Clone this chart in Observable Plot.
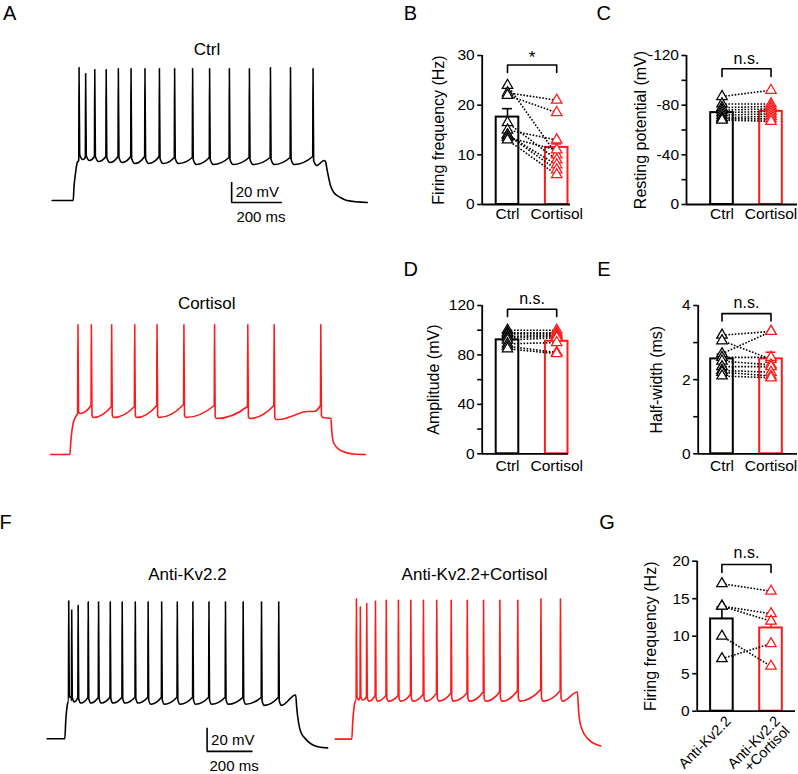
<!DOCTYPE html>
<html><head><meta charset="utf-8">
<script src="https://cdn.jsdelivr.net/npm/d3@7"></script>
<script src="https://cdn.jsdelivr.net/npm/@observablehq/plot@0.6"></script>
<style>
body{margin:0;background:#fff;}
#fig{position:relative;width:798px;height:774px;font-family:"Liberation Sans",Arial,sans-serif;background:#fff;overflow:hidden;}
#fig svg{position:absolute;left:0;top:0;overflow:visible;}
.lbl{position:absolute;color:#000;white-space:nowrap;line-height:1;transform:translate(-50%,-50%);}
</style></head><body><div id="fig"></div>
<script>
// ---------------- DATA ----------------
const groupsA = ["Ctrl", "Cortisol"];
const groupsG = ["Anti-Kv2.2", "Anti-Kv2.2\n+Cortisol"];

// B: firing frequency (Hz)
const freqCtrl = [24, 22.5, 22, 16.5, 15, 14, 14, 13.5, 13];
const freqCort = [10, 21, 18.5, 9, 13, 8, 7, 11, 6];
const freqMean = [17.6, 11.5];
const freqSem = [1.7, 0.7];
// C: resting potential (mV)
const restCtrl = [-87, -81, -78, -76, -74, -72, -70, -69, -68];
const restCort = [-92, -81, -79, -77, -75, -73, -71, -69, -67];
const restMean = [-74, -75];
const restSem = [2.0, 2.3];
// D: amplitude (mV)
const ampCtrl = [100, 98, 97, 95, 94, 92, 89, 87, 85];
const ampCort = [100, 98, 97, 96, 95, 94, 90, 82, 81];
const ampMean = [92.2, 91.1];
const ampSem = [1.8, 2.4];
// E: half-width (ms)
const hwCtrl = [3.2, 3.05, 2.7, 2.6, 2.5, 2.35, 2.25, 2.2, 2.1];
const hwCort = [3.3, 2.55, 3.3, 2.6, 2.4, 2.35, 2.2, 2.1, 2.05];
const hwMean = [2.56, 2.56];
const hwSem = [0.13, 0.18];
// G: firing frequency with anti-Kv2.2 (Hz)
const kvCtrl = [17, 14, 14, 10, 7];
const kvCort = [16, 13, 12, 6, 9];
const kvMean = [12.3, 11.1];
const kvSem = [1.6, 0.55];

// significance brackets: end level, top level, label level
const sigB = {ends: 26.6, top: 28.1, textY: 29.6, text: "*"};
const sigC = {ends: -103, top: -109.3, textY: -117.6, text: "n.s."};
const sigD = {ends: 111, top: 117, textY: 125.5, text: "n.s."};
const sigE = {ends: 3.58, top: 3.78, textY: 4.06, text: "n.s."};
const sigG = {ends: 18.5, top: 19.56, textY: 21.1, text: "n.s."};

// Voltage traces (time ms from current-step onset, membrane potential mV)
const traceCtrl = {
  onset: [[-83, -70], [0, -70], [3, -57], [9, -43], [16, -32]],
  spikeT: [23, 49, 85, 130, 178, 228, 283, 340, 400, 471, 538, 616, 695, 778, 857, 946],
  peakV: [63, 57, 61, 61, 62, 62, 62, 62, 62, 62, 62, 62, 62, 63, 63, 62],
  troughV: [-29, -30, -31, -32, -32, -33, -33, -33, -33, -34, -34, -34, -34, -34, -34, -35],
  threshV: [-30, -27, -26, -26, -26, -26, -26, -26, -27, -27, -27, -27, -27, -27, -27, -26],
  extra: [],
  offset: [[989, -30], [995, -31], [1002, -40], [1015, -55], [1028, -62], [1054, -67], [1080, -70], [1160, -72]]
};
const traceCort = {
  onset: [[-76, -70], [0, -70], [5, -54], [13, -39], [26, -31]],
  spikeT: [32, 85, 165, 256, 344, 450, 571, 702, 806, 990],
  peakV: [60, 60, 60, 60, 60, 60, 60, 60, 60, 60],
  troughV: [-29, -33, -33, -33, -33, -33, -34, -34, -35, -33],
  threshV: [-29, -21, -22, -22, -21, -20, -21, -22, -21, -21],
  extra: [[831, -35], [884, -31], [936, -27], [962, -27]],
  offset: [[1030, -34], [1033, -45], [1036, -53], [1042, -59], [1068, -66], [1120, -69.5], [1166, -70]]
};
const traceKv = {
  onset: [[-77, -70], [0, -70], [4, -55], [10, -42], [15, -38]],
  spikeT: [17, 30, 58, 102, 147, 198, 250, 307, 363, 422, 490, 558, 628, 700, 777, 857, 932],
  peakV: [50, 42, 46, 49, 49, 49, 49, 49, 49, 49, 49, 49, 49, 49, 49, 49, 49],
  troughV: [-37, -38, -39, -39, -39, -39, -39, -39, -40, -40, -40, -40, -40, -40, -40, -41, -41],
  threshV: [-38, -35, -34, -34, -34, -34, -34, -34, -34, -34, -34, -34, -34, -34, -34, -34, -34],
  extra: [],
  offset: [[1006, -32], [1011, -44], [1028, -64], [1053, -71], [1103, -77], [1145, -78]]
};
const traceKvCort = {
  onset: [[-72, -70], [0, -70], [4, -55], [10, -42], [16, -37]],
  spikeT: [20, 37, 65, 103, 150, 203, 257, 312, 370, 433, 503, 574, 645, 723, 824, 909],
  peakV: [52, 45, 48, 50, 51, 51, 51, 51, 51, 51, 51, 51, 51, 51, 52, 52],
  troughV: [-36, -36, -37, -37, -37, -37, -37, -37, -37, -37, -37, -37, -37, -37, -37, -37],
  threshV: [-37, -33, -33, -32, -32, -32, -31, -31, -30, -30, -30, -29, -29, -28, -27, -28],
  extra: [],
  offset: [[983, -29], [988, -45], [1000, -60], [1030, -70], [1085, -76]]
};
// scale bars: anchor time, anchor voltage, length ms, length mV
const scaleA = {t: 625, v: -72, ms: 200, mV: 20};
const scaleF = {t: 620, v: -81, ms: 200, mV: 20};

// ---------------- LAYOUT / HELPERS ----------------
const W = 798, H = 774;
const FONT = '"Liberation Sans", Arial, sans-serif';
const RED = "#ff1a1a";
const fig = document.getElementById("fig");

function fullPlot(frame, opts) {
  return Plot.plot({
    width: W, height: H,
    marginLeft: frame.left, marginRight: W - frame.right,
    marginTop: frame.top, marginBottom: H - frame.bottom,
    style: {background: "transparent", overflow: "visible", fontFamily: FONT, color: "black"},
    ...opts
  });
}

function label(text, x, y, size, extra) {
  const d = document.createElement("div");
  d.className = "lbl";
  d.textContent = text;
  d.style.left = x + "px"; d.style.top = y + "px"; d.style.fontSize = size + "px";
  if (extra) Object.assign(d.style, extra);
  fig.appendChild(d);
}

function barPanel(cfg) {
  const {frame, centers, yDomain, ticks, minor, ctrl, treat, mean, sem, sig, title, titleOff, groups, rotateLabels, labelDy} = cfg;
  const step = centers[1] - centers[0];
  const xDomain = [(frame.left - centers[0]) / step, (frame.right - centers[0]) / step];
  const hw = 11.3 / step;
  const cols = ["black", RED];
  const sign = yDomain[1] < 0 ? -1 : 1;
  const bars = mean.map((m, i) => ({i, m, s: sem[i], c: cols[i]}));
  const pairs = ctrl.map((c, i) => ({a: c, b: treat[i]}));
  const pts = ctrl.map(v => ({i: 0, v, c: "black"})).concat(treat.map(v => ({i: 1, v, c: RED})));
  const brk = [[0, sig.ends], [0, sig.top], [1, sig.top], [1, sig.ends]];
  const marks = [
    Plot.rectY(bars, {x1: d => d.i - hw, x2: d => d.i + hw, y1: 0, y2: "m", fill: "white", stroke: "c", strokeWidth: 2}),
    Plot.ruleX(bars, {x: "i", y1: "m", y2: d => d.m + sign * d.s, stroke: "c", strokeWidth: 1.6}),
    Plot.ruleY(bars, {y: d => d.m + sign * d.s, x1: d => d.i - 0.1, x2: d => d.i + 0.1, stroke: "c", strokeWidth: 1.6}),
    Plot.link(pairs, {x1: () => 0, x2: () => 1, y1: "a", y2: "b", stroke: "black", strokeWidth: 1.6, strokeDasharray: "1.6,1.6"}),
    Plot.dot(pts, {x: "i", y: "v", symbol: "triangle", r: 3.9, stroke: "c", fill: "white", strokeWidth: 1.25}),
    Plot.ruleX([xDomain[0]], {stroke: "black", strokeWidth: 1.8}),
    Plot.ruleY([0], {stroke: "black", strokeWidth: 1.8}),
    Plot.axisY({ticks, tickSize: 4.5, tickPadding: 3, fontSize: 15.5, strokeWidth: 1.6, label: null, anchor: "left", tickFormat: d => String(d)}),
    Plot.line(brk, {x: d => d[0], y: d => d[1], stroke: "black", strokeWidth: 1.6}),
    Plot.text([sig.text], {x: () => 0.5, y: () => sig.textY, text: d => d, fontSize: sig.text === "*" ? 17 : 16}),
    Plot.text([title], {frameAnchor: "left", dx: -titleOff, rotate: -90, textAnchor: "middle", text: d => d, fontSize: 16})
  ];
  if (minor) marks.push(Plot.axisY({ticks: minor, tickSize: 4.5, tickFormat: () => "", strokeWidth: 1.6, label: null, anchor: "left"}));
  if (rotateLabels) {
    marks.push(Plot.text(groups, {x: (d, i) => i, frameAnchor: "bottom", dx: 3, dy: 4, rotate: -45, textAnchor: "end", lineAnchor: "top", lineHeight: 0.95, text: d => d, fontSize: 14.5}));
  } else {
    marks.push(Plot.text(groups, {x: (d, i) => i, frameAnchor: "bottom", dy: labelDy, text: d => d, fontSize: 15.5}));
  }
  fig.appendChild(fullPlot(frame, {
    x: {domain: xDomain, axis: null},
    y: {domain: yDomain, axis: null},
    color: {type: "identity"},
    marks
  }));
}

function buildTrace(tr, ahp, fall) {
  const pts = tr.onset.map(p => ({t: p[0], v: p[1]}));
  tr.spikeT.forEach((t, i) => {
    pts.push({t: t - 1.2, v: tr.threshV[i]});
    pts.push({t, v: tr.peakV[i]});
    pts.push({t: t + fall[0], v: tr.troughV[i] + fall[1]});
    pts.push({t: t + ahp, v: tr.troughV[i]});
  });
  tr.extra.forEach(p => pts.push({t: p[0], v: p[1]}));
  tr.offset.forEach(p => pts.push({t: p[0], v: p[1]}));
  pts.sort((a, b) => a.t - b.t);
  return pts;
}

function tracePanel(cfg) {
  const {x0, y0, pxMs, pxMv, tr, color, ahp, fall, scale} = cfg;
  const tMin = -160, tMax = 1260, vMin = -110, vMax = 80;
  const frame = {
    left: x0 + tMin * pxMs, right: x0 + tMax * pxMs,
    top: y0 - (vMax + 70) * pxMv, bottom: y0 + (-70 - vMin) * pxMv
  };
  const marks = [Plot.line(buildTrace(tr, ahp, fall), {x: "t", y: "v", stroke: color, strokeWidth: 1.6, curve: "monotone-x"})];
  if (scale) {
    marks.push(
      Plot.ruleX([scale], {x: "t", y1: "v", y2: d => d.v + d.mV, stroke: "black", strokeWidth: 1.6}),
      Plot.ruleY([scale], {y: "v", x1: "t", x2: d => d.t + d.ms, stroke: "black", strokeWidth: 1.6}),
      Plot.text([scale], {x: d => d.t, y: d => d.v + d.mV / 2, dx: 4, text: d => `${d.mV} mV`, textAnchor: "start", fontSize: 15}),
      Plot.text([scale], {x: d => d.t + d.ms / 2, y: "v", dx: 4, dy: 15 , text: d => `${d.ms} ms`, fontSize: 15})
    );
  }
  fig.appendChild(fullPlot(frame, {
    x: {domain: [tMin, tMax], axis: null},
    y: {domain: [vMin, vMax], axis: null},
    marks
  }));
}

// ---------------- DRAW ----------------
tracePanel({x0: 72.7, y0: 200, pxMs: 50.7 / 200, pxMv: 1, tr: traceCtrl, color: "black", ahp: 15, fall: [2.5, 5], scale: scaleA});
tracePanel({x0: 69.3, y0: 454, pxMs: 50.7 / 200, pxMv: 1, tr: traceCort, color: RED, ahp: 8, fall: [2.5, 2]});
tracePanel({x0: 64.3, y0: 738.2, pxMs: 45.9 / 200, pxMv: 1.15, tr: traceKv, color: "black", ahp: 12, fall: [2.5, 4], scale: scaleF});
tracePanel({x0: 351.3, y0: 738.6, pxMs: 45.9 / 200, pxMv: 1.15, tr: traceKvCort, color: RED, ahp: 10, fall: [2.5, 3]});

barPanel({frame: {left: 481.7, right: 570, top: 55, bottom: 204}, centers: [507, 556.2], yDomain: [0, 30], ticks: [0, 10, 20, 30],
  ctrl: freqCtrl, treat: freqCort, mean: freqMean, sem: freqSem, sig: sigB, title: "Firing frequency (Hz)", titleOff: 43.7, groups: groupsA, labelDy: 14});
barPanel({frame: {left: 686, right: 797, top: 55, bottom: 204}, centers: [721.5, 770.5], yDomain: [0, -120], ticks: [0, -40, -80, -120], minor: [-20, -60, -100],
  ctrl: restCtrl, treat: restCort, mean: restMean, sem: restSem, sig: sigC, title: "Resting potential (mV)", titleOff: 45.3, groups: groupsA, labelDy: 14});
barPanel({frame: {left: 481.7, right: 568, top: 305, bottom: 453.3}, centers: [507, 556.2], yDomain: [0, 120], ticks: [0, 40, 80, 120], minor: [20, 60, 100],
  ctrl: ampCtrl, treat: ampCort, mean: ampMean, sem: ampSem, sig: sigD, title: "Amplitude (mV)", titleOff: 48.7, groups: groupsA, labelDy: 17});
barPanel({frame: {left: 697.7, right: 797, top: 305, bottom: 453.3}, centers: [721.5, 770.5], yDomain: [0, 4], ticks: [0, 2, 4], minor: [1, 3],
  ctrl: hwCtrl, treat: hwCort, mean: hwMean, sem: hwSem, sig: sigE, title: "Half-width (ms)", titleOff: 41, groups: groupsA, labelDy: 17});
barPanel({frame: {left: 696.7, right: 795, top: 560.7, bottom: 710.7}, centers: [721.4, 770.5], yDomain: [0, 20], ticks: [0, 5, 10, 15, 20],
  ctrl: kvCtrl, treat: kvCort, mean: kvMean, sem: kvSem, sig: sigG, title: "Firing frequency (Hz)", titleOff: 46.7, groups: groupsG, rotateLabels: true});

// panel letters and trace titles
const letters = [["A", 9.7, 13.3], ["B", 410.3, 13.3], ["C", 603.7, 13.3], ["D", 410.7, 269], ["E", 604, 269], ["F", 5.7, 522], ["G", 607, 522]];
letters.forEach(([t, x, y]) => label(t, x, y, 20));
const traceTitles = [["Ctrl", 207, 49], ["Cortisol", 206.7, 302.7], ["Anti-Kv2.2", 187.5, 574], ["Anti-Kv2.2+Cortisol", 474.6, 574]];
traceTitles.forEach(([t, x, y]) => label(t, x, y, 17));
</script></body></html>
